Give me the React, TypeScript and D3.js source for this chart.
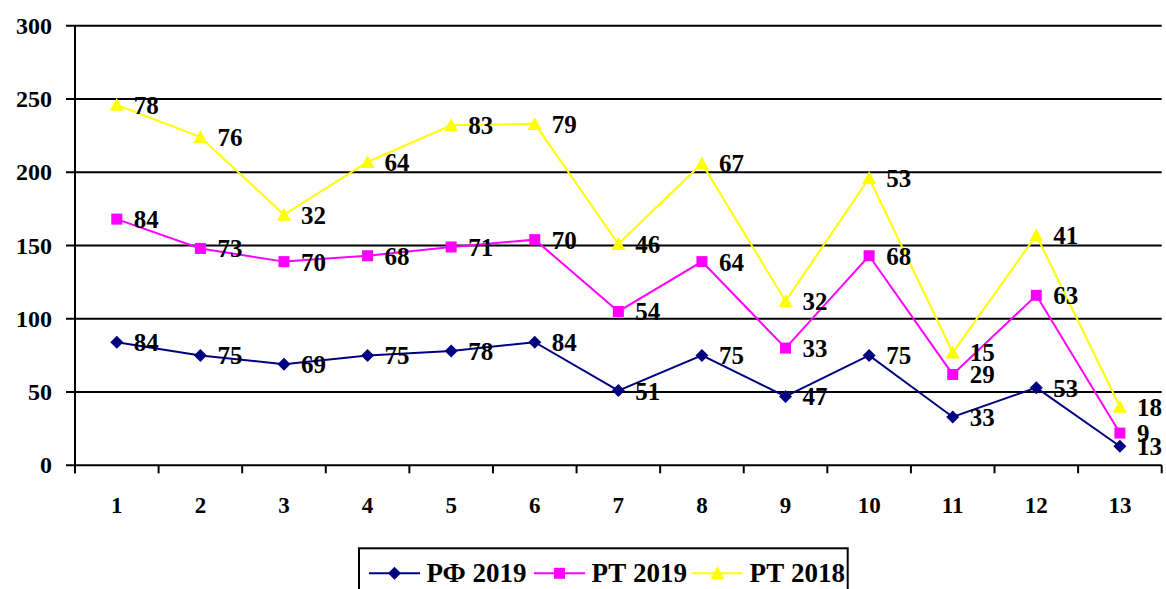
import React from 'react';
import * as d3 from 'd3';

// categories and series (label values; the chart stacks them)
const categories = ['1', '2', '3', '4', '5', '6', '7', '8', '9', '10', '11', '12', '13'];
const rf2019 = [84, 75, 69, 75, 78, 84, 51, 75, 47, 75, 33, 53, 13];
const rt2019 = [84, 73, 70, 68, 71, 70, 54, 64, 33, 68, 29, 63, 9];
const rt2018 = [78, 76, 32, 64, 83, 79, 46, 67, 32, 53, 15, 41, 18];
const yTicks = [0, 50, 100, 150, 200, 250, 300];

interface Series {
  name: string;
  values: number[];
  color: string;
  marker: 'diamond' | 'square' | 'triangle';
}

const seriesList: Series[] = [
  { name: 'РФ 2019', values: rf2019, color: '#000080', marker: 'diamond' },
  { name: 'РТ 2019', values: rt2019, color: '#FF00FF', marker: 'square' },
  { name: 'РТ 2018', values: rt2018, color: '#FFFF00', marker: 'triangle' },
];

const W = 1166;
const H = 589;
const margin = { top: 25.7, right: 4.3, bottom: 123.7, left: 75 };
const FONT = '"Liberation Serif", "Times New Roman", serif';

const Marker: React.FC<{ type: Series['marker']; x: number; y: number; color: string }> = ({ type, x, y, color }) => {
  if (type === 'diamond') {
    const r = 6.5;
    return <path d={`M${x},${y - r}L${x + r},${y}L${x},${y + r}L${x - r},${y}Z`} fill={color} />;
  }
  if (type === 'square') {
    const s = 11;
    return <rect x={x - s / 2} y={y - s / 2} width={s} height={s} fill={color} />;
  }
  return <path d={`M${x},${y - 7}L${x + 7},${y + 6}L${x - 7},${y + 6}Z`} fill={color} />;
};

const App: React.FC = () => {
  const x0 = margin.left;
  const x1 = W - margin.right;
  const y0 = H - margin.bottom;
  const y1 = margin.top;

  const xBand = d3.scaleBand<string>().domain(categories).range([x0, x1]).padding(0);
  const xMid = (c: string) => (xBand(c) ?? 0) + xBand.bandwidth() / 2;
  const yScale = d3.scaleLinear().domain([0, 300]).range([y0, y1]);

  // stacked totals
  const stacked: number[][] = [];
  seriesList.forEach((s, i) => {
    stacked.push(s.values.map((v, j) => v + (i > 0 ? stacked[i - 1][j] : 0)));
  });

  const line = d3.line<number>()
    .x((_, j) => xMid(categories[j]))
    .y(d => yScale(d));

  const boundaries = d3.range(categories.length + 1).map(i => x0 + i * xBand.bandwidth());

  const legendX = [369, 534, 692];

  return (
    <div style={{ position: 'absolute', left: 0, top: 0 }}>
      <svg width={W} height={H} viewBox={`0 0 ${W} ${H}`} style={{ display: 'block', background: '#fff' }}>
        {/* gridlines */}
        {yTicks.filter(t => t > 0).map(t => (
          <line key={t} x1={x0 - 9} x2={x1} y1={yScale(t)} y2={yScale(t)} stroke="#000" strokeWidth={2} />
        ))}
        {/* axes */}
        <line x1={x0} x2={x0} y1={y1} y2={y0 + 8} stroke="#000" strokeWidth={2} />
        <line x1={x0 - 9} x2={x1} y1={y0} y2={y0} stroke="#000" strokeWidth={2} />
        {boundaries.map((b, i) => (
          <line key={i} x1={b} x2={b} y1={y0} y2={y0 + 8} stroke="#000" strokeWidth={2} />
        ))}
        {/* y tick labels */}
        {yTicks.map(t => (
          <text key={t} x={52} y={yScale(t) + 8} textAnchor="end" fontFamily={FONT} fontWeight="bold" fontSize={24}>{t}</text>
        ))}
        {/* x tick labels */}
        {categories.map(c => (
          <text key={c} x={xMid(c)} y={513} textAnchor="middle" fontFamily={FONT} fontWeight="bold" fontSize={23}>{c}</text>
        ))}
        {/* series lines */}
        {seriesList.map((s, i) => (
          <path key={s.name} d={line(stacked[i]) ?? ''} fill="none" stroke={s.color} strokeWidth={2} />
        ))}
        {/* markers */}
        {seriesList.map((s, i) => stacked[i].map((v, j) => (
          <Marker key={`${s.name}-${j}`} type={s.marker} x={xMid(categories[j])} y={yScale(v)} color={s.color} />
        )))}
        {/* data labels */}
        {seriesList.map((s, i) => s.values.map((v, j) => (
          <text key={`l-${s.name}-${j}`} x={xMid(categories[j]) + 17} y={yScale(stacked[i][j]) + 9}
            fontFamily={FONT} fontWeight="bold" fontSize={25}>{v}</text>
        )))}
        {/* legend */}
        <rect x={359} y={548.3} width={488.7} height={60} fill="#fff" stroke="#000" strokeWidth={2} />
        {seriesList.map((s, i) => (
          <g key={`lg-${s.name}`}>
            <line x1={legendX[i]} x2={legendX[i] + 51} y1={573.3} y2={573.3} stroke={s.color} strokeWidth={2} />
            <Marker type={s.marker} x={legendX[i] + 25.5} y={573.3} color={s.color} />
            <text x={legendX[i] + 57.5} y={581.5} fontFamily={FONT} fontWeight="bold" fontSize={27}>{s.name}</text>
          </g>
        ))}
      </svg>
    </div>
  );
};

export default App;
